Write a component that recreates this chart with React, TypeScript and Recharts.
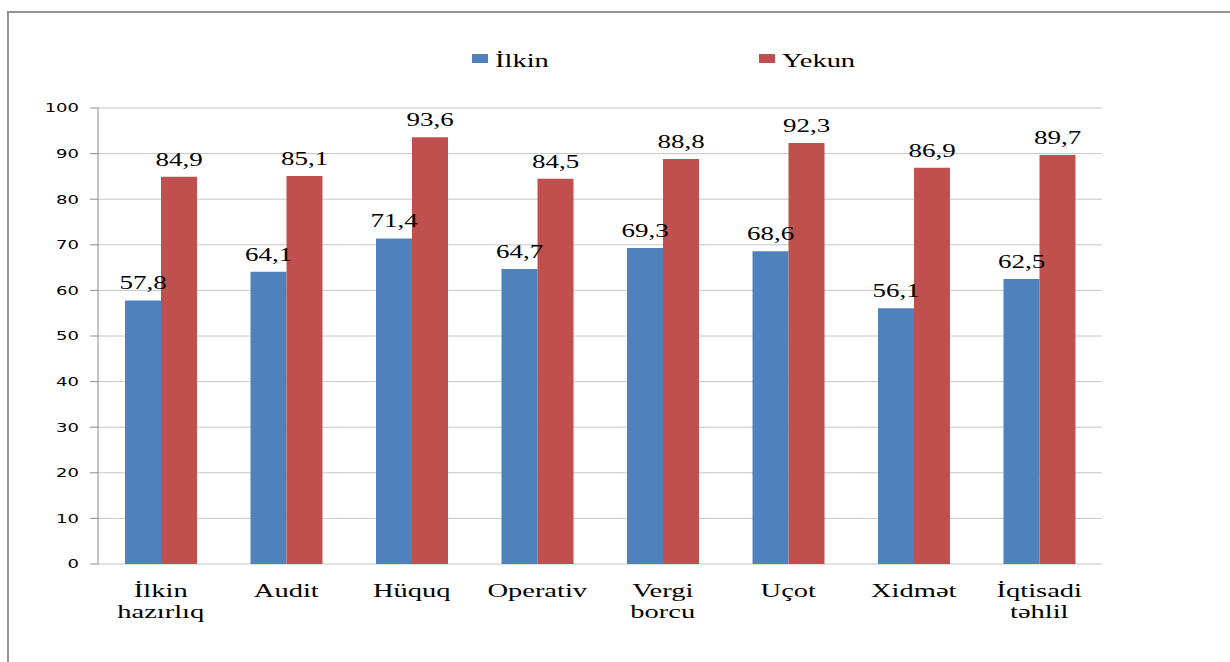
import {
  Bar,
  BarChart,
  CartesianGrid,
  LabelList,
  Legend,
  XAxis,
  YAxis,
} from "recharts";

const categories = [
  "İlkin hazırlıq",
  "Audit",
  "Hüquq",
  "Operativ",
  "Vergi borcu",
  "Uçot",
  "Xidmət",
  "İqtisadi təhlil",
];
const ilkin = [57.8, 64.1, 71.4, 64.7, 69.3, 68.6, 56.1, 62.5];
const yekun = [84.9, 85.1, 93.6, 84.5, 88.8, 92.3, 86.9, 89.7];
const yTicks = [0, 10, 20, 30, 40, 50, 60, 70, 80, 90, 100];
const seriesKeys = ["ilkin", "yekun"];

const data = categories.map((name, i) => ({
  name,
  ilkin: ilkin[i],
  yekun: yekun[i],
}));

// category borders, for the Excel-style tick marks between groups
const edgeTicks = categories.map((_, i) => i).concat(categories.length);

// the original picture is stretched sideways, so text is too
const STRETCH = 1.5;
const SERIF = '"Liberation Serif", "Times New Roman", serif';
const SANS = '"DejaVu Sans", Verdana, sans-serif';
const AXIS = "#8c8c8c";

const fmt = (v: number) => v.toFixed(1).replace(".", ",");

function YTick({ x, y, payload }: any) {
  return (
    <g transform={`translate(${x},${y}) scale(${STRETCH},1)`}>
      <text textAnchor="end" dy="0.36em" fontFamily={SANS} fontSize={12} fill="#000">
        {payload.value}
      </text>
    </g>
  );
}

function XTick({ x, y, payload }: any) {
  const lines = String(payload.value).split(" ");
  return (
    <g transform={`translate(${x},${y}) scale(${STRETCH},1)`}>
      <text textAnchor="middle" fontFamily={SERIF} fontSize={19} fill="#000">
        {lines.map((line, i) => (
          <tspan key={i} x={0} y={33 + i * 21}>
            {line}
          </tspan>
        ))}
      </text>
    </g>
  );
}

function ValueLabel({ x, y, width, value }: any) {
  const cx = Number(x) + Number(width) / 2;
  return (
    <g transform={`translate(${cx},${Number(y) - 11}) scale(${STRETCH},1)`}>
      <text textAnchor="middle" fontFamily={SERIF} fontSize={18} fill="#000">
        {fmt(Number(value))}
      </text>
    </g>
  );
}

function LegendBox({ payload }: any) {
  const items = [...(payload || [])].sort(
    (a: any, b: any) =>
      seriesKeys.indexOf(String(a.dataKey)) - seriesKeys.indexOf(String(b.dataKey))
  );
  return (
    <svg width={1230} height={32}>
      {items.map((entry: any, i: number) => (
        <g key={entry.value} transform={`translate(${472 + i * 287},0)`}>
          <rect x={0} y={14} width={16} height={9} fill={entry.color} />
          <g transform={`translate(23,27) scale(${STRETCH},1)`}>
            <text fontFamily={SERIF} fontSize={19} fill="#000">
              {entry.value}
            </text>
          </g>
        </g>
      ))}
    </svg>
  );
}

export default function App() {
  return (
    <div
      style={{
        position: "absolute",
        left: 0,
        top: 0,
        width: 1230,
        height: 662,
        overflow: "hidden",
        background: "#fff",
      }}
    >
      <div
        style={{
          position: "absolute",
          left: 7,
          top: 11,
          width: 1300,
          height: 700,
          borderLeft: "2px solid #939393",
          borderTop: "2px solid #939393",
        }}
      />
      <div style={{ position: "absolute", left: 0, top: 0 }}>
        <BarChart
          width={1230}
          height={662}
          data={data}
          barSize={36}
          barGap={0}
          margin={{ top: 108, right: 128, left: 38, bottom: 38 }}
        >
          <CartesianGrid vertical={false} stroke="#c6c6c6" />
          <XAxis
            xAxisId="edge"
            type="number"
            domain={[0, categories.length]}
            ticks={edgeTicks}
            allowDataOverflow
            height={0}
            tick={false}
            tickSize={6}
            stroke={AXIS}
          />
          <XAxis
            dataKey="name"
            height={60}
            axisLine={false}
            tickLine={false}
            tickSize={0}
            tickMargin={0}
            interval={0}
            tick={<XTick />}
          />
          <YAxis
            domain={[0, 100]}
            ticks={yTicks}
            width={60}
            tickSize={8}
            tickMargin={11}
            stroke={AXIS}
            tick={<YTick />}
          />
          <Legend
            layout="horizontal"
            verticalAlign="middle"
            align="center"
            wrapperStyle={{ top: 40, left: 0, width: 1230, height: 32 }}
            content={<LegendBox />}
          />
          <Bar dataKey="ilkin" name="İlkin" fill="#4f81bd" isAnimationActive={false}>
            <LabelList dataKey="ilkin" content={<ValueLabel />} />
          </Bar>
          <Bar dataKey="yekun" name="Yekun" fill="#c0504d" isAnimationActive={false}>
            <LabelList dataKey="yekun" content={<ValueLabel />} />
          </Bar>
        </BarChart>
      </div>
    </div>
  );
}
